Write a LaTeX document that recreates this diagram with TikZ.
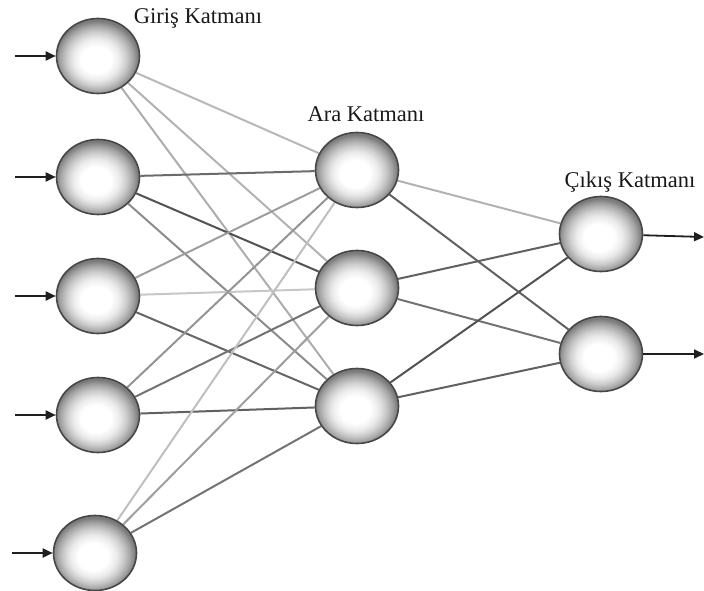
\documentclass[tikz,border=0pt]{standalone}
\usepackage{fontspec}
\setmainfont{Liberation Serif}
\usetikzlibrary{shapes.geometric,arrows.meta,backgrounds}

% soft ball shading for the neurons (the inner 50bp square fills the node)
\pgfdeclareradialshading{neuronball}{\pgfpoint{-1.5bp}{-3bp}}{%
  color(0bp)=(white);
  color(9bp)=(white);
  color(14bp)=(black!8);
  color(18bp)=(black!20);
  color(22bp)=(black!36);
  color(25bp)=(black!52);
  color(50bp)=(black!52)}

\tikzset{
  neuron/.style={ellipse, minimum width=83pt, minimum height=75pt,
    draw=black!72, line width=1.6pt, shading=neuronball},
  layerlabel/.style={font=\fontsize{22.5}{24}\selectfont, text=black!90, inner sep=0pt},
  link/.style={line width=2pt, draw=black!#1},
  signal/.style={line width=1.8pt, draw=black!88,
    -{Triangle[length=10pt,width=9pt]}}
}

\begin{document}
\begin{tikzpicture}[x=1pt,y=-1pt]
\useasboundingbox (0,0) rectangle (704,591);

% input layer
\node[neuron] (i1) at (98,56) {};
\node[neuron] (i2) at (98,177) {};
\node[neuron] (i3) at (98,296) {};
\node[neuron] (i4) at (98,415) {};
\node[neuron] (i5) at (95,553) {};

% hidden layer
\node[neuron] (h1) at (357,170) {};
\node[neuron] (h2) at (357,288) {};
\node[neuron] (h3) at (357,406) {};

% output layer
\node[neuron] (o1) at (601,234) {};
\node[neuron] (o2) at (601,354) {};

% layer titles
\node[layerlabel, anchor=base] (tin)  at (198,24)  {Giriş Katmanı};
\node[layerlabel, anchor=base] (thid) at (366,122) {Ara Katmanı};
\node[layerlabel, anchor=base] (tout) at (630,187) {Çıkış Katmanı};

% free ends of the input and output signals
\coordinate (a1) at (15,56);
\coordinate (a2) at (15,177);
\coordinate (a3) at (15,296);
\coordinate (a4) at (15,415);
\coordinate (a5) at (12,553);
\coordinate (b1) at (704,237);
\coordinate (b2) at (704,354);

\begin{pgfonlayer}{background}
  % input -> hidden weights
  \draw[link=28] (i1) -- (h1);
  \draw[link=30] (i1) -- (h2);
  \draw[link=32] (i1) -- (h3);
  \draw[link=58] (i2) -- (h1);
  \draw[link=68] (i2) -- (h2);
  \draw[link=45] (i2) -- (h3);
  \draw[link=38] (i3) -- (h1);
  \draw[link=22] (i3) -- (h2);
  \draw[link=60] (i3) -- (h3);
  \draw[link=42] (i4) -- (h1);
  \draw[link=55] (i4) -- (h2);
  \draw[link=62] (i4) -- (h3);
  \draw[link=25] (i5) -- (h1);
  \draw[link=38] (i5) -- (h2);
  \draw[link=55] (i5) -- (h3);
  % hidden -> output weights
  \draw[link=30] (h1) -- (o1);
  \draw[link=62] (h1) -- (o2);
  \draw[link=62] (h2) -- (o1);
  \draw[link=55] (h2) -- (o2);
  \draw[link=68] (h3) -- (o1);
  \draw[link=62] (h3) -- (o2);
\end{pgfonlayer}

% external signals
\draw[signal] (a1) -- (i1);
\draw[signal] (a2) -- (i2);
\draw[signal] (a3) -- (i3);
\draw[signal] (a4) -- (i4);
\draw[signal] (a5) -- (i5);
\draw[signal] (o1) -- (b1);
\draw[signal] (o2) -- (b2);
\end{tikzpicture}
\end{document}
